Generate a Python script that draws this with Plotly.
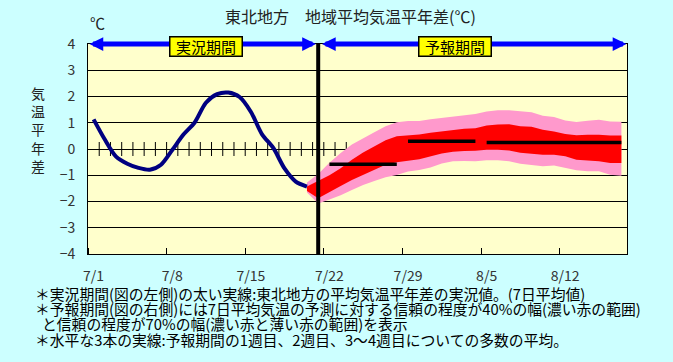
import plotly.graph_objects as go

# ---------------- data ----------------
dates = ["7/1", "7/2", "7/3", "7/4", "7/5", "7/6", "7/7", "7/8", "7/9", "7/10",
         "7/11", "7/12", "7/13", "7/14", "7/15", "7/16", "7/17", "7/18", "7/19", "7/20",
         "7/21", "7/22", "7/23", "7/24", "7/25", "7/26", "7/27", "7/28", "7/29", "7/30",
         "7/31", "8/1", "8/2", "8/3", "8/4", "8/5", "8/6", "8/7", "8/8", "8/9",
         "8/10", "8/11", "8/12", "8/13", "8/14", "8/15", "8/16", "8/17"]
tick_labels = ["7/1", "7/8", "7/15", "7/22", "7/29", "8/5", "8/12"]

# observed 7-day mean anomaly (7/1 - 7/20)
obs_values = [1.13, 0.36, -0.29, -0.56, -0.72, -0.79, -0.60, -0.04, 0.55, 1.01,
              1.76, 2.09, 2.15, 1.98, 1.42, 0.56, 0.04, -0.74, -1.24, -1.43]

# forecast bands (7/20 - 8/17)
pink_hi = [-1.28, -0.95, -0.52, -0.15, 0.17, 0.42, 0.64, 0.87, 1.02, 1.07,
           1.07, 1.13, 1.18, 1.23, 1.26, 1.33, 1.43, 1.48, 1.48, 1.43,
           1.40, 1.27, 1.22, 1.09, 1.03, 1.08, 1.11, 1.05, 1.04]
red_hi = [-1.43, -1.20, -1.00, -0.73, -0.41, -0.13, 0.10, 0.33, 0.49, 0.53,
          0.55, 0.62, 0.67, 0.73, 0.77, 0.79, 0.90, 0.93, 0.94, 0.87,
          0.85, 0.73, 0.67, 0.57, 0.52, 0.54, 0.54, 0.51, 0.51]
red_lo = [-1.60, -1.88, -1.63, -1.41, -1.18, -0.99, -0.79, -0.60, -0.50, -0.45,
          -0.39, -0.28, -0.17, -0.10, -0.08, -0.07, -0.03, -0.03, -0.06, -0.14,
          -0.19, -0.22, -0.22, -0.28, -0.41, -0.43, -0.47, -0.53, -0.53]
pink_lo = [-1.66, -2.08, -1.92, -1.76, -1.56, -1.37, -1.22, -1.08, -0.99, -0.86,
           -0.80, -0.70, -0.55, -0.47, -0.46, -0.47, -0.43, -0.43, -0.47, -0.56,
           -0.60, -0.66, -0.63, -0.72, -0.81, -0.85, -0.85, -0.98, -1.02]

# ensemble means: week 1, week 2, weeks 3-4
week_start = ["7/22", "7/29", "8/5"]
week_end = ["7/28", "8/4", "8/17"]
week_mean = [-0.58, 0.30, 0.25]

split_date = "7/21"
fc_first = "7/20"

# ---------------- helpers ----------------
idx = {d: i for i, d in enumerate(dates)}
obs_x = list(range(len(obs_values)))
fc_x = list(range(idx[fc_first], idx[fc_first] + len(pink_hi)))
n = len(dates)

W, H = 673, 362
ML, MR, MT, MB = 88, 46, 44, 108
PW, PH = W - ML - MR, H - MT - MB


def px2paper(px, py):
    return (px - ML) / PW, (H - MB - py) / PH


FONT = "Noto Sans CJK JP, Noto Sans, sans-serif"
fig = go.Figure()

# day tick marks on the zero line
fig.add_trace(go.Scatter(
    x=[i + 0.5 for i in range(n - 1)], y=[0] * (n - 1), mode="markers",
    marker=dict(symbol="line-ns", size=10, line=dict(width=1, color="black")),
    hoverinfo="skip", showlegend=False))

# 70% band (pink)
fig.add_trace(go.Scatter(
    x=fc_x + fc_x[::-1], y=pink_hi + pink_lo[::-1], fill="toself",
    fillcolor="#FF99CC", line=dict(width=0), mode="lines",
    hoverinfo="skip", showlegend=False))
# 40% band (red)
fig.add_trace(go.Scatter(
    x=fc_x + fc_x[::-1], y=red_hi + red_lo[::-1], fill="toself",
    fillcolor="#FF0000", line=dict(width=0), mode="lines",
    hoverinfo="skip", showlegend=False))

# observed
fig.add_trace(go.Scatter(
    x=obs_x, y=obs_values, mode="lines",
    line=dict(color="#000080", width=4, shape="spline", smoothing=0.8),
    showlegend=False))

# ensemble mean lines
for s, e, m in zip(week_start, week_end, week_mean):
    fig.add_trace(go.Scatter(
        x=[idx[s], idx[e]], y=[m, m], mode="lines",
        line=dict(color="black", width=3.5), showlegend=False))

sx = idx[split_date]

# divider between observation and forecast
fig.add_trace(go.Scatter(
    x=[sx, sx], y=[-4, 4], mode="lines", line=dict(color="black", width=4),
    hoverinfo="skip", showlegend=False))

# period arrows
for a, b in [(-0.5, sx - 0.2), (sx + 0.2, n - 0.55)]:
    fig.add_annotation(x=b, y=4, ax=a, ay=4, xref="x", yref="y", axref="x", ayref="y",
                       text="", showarrow=True, arrowhead=2, startarrowhead=2,
                       arrowside="end+start", arrowwidth=5, arrowsize=0.55,
                       startarrowsize=0.55, arrowcolor="#0000FF", standoff=0,
                       startstandoff=0)

for txt, xc in [("実況期間", 10.0), ("予報期間", 32.2)]:
    fig.add_annotation(x=xc, y=3.92, xref="x", yref="y", text=txt, showarrow=False,
                       xanchor="center", yanchor="middle",
                       font=dict(family=FONT, size=15, color="black"),
                       bgcolor="#FFFF00", bordercolor="black", borderwidth=1.5,
                       borderpad=0, width=71, height=18)

# titles / units
tx, ty = px2paper(350, 16)
fig.add_annotation(x=tx, y=ty, xref="paper", yref="paper", xanchor="center",
                   yanchor="middle", text="東北地方　地域平均気温平年差(℃)",
                   showarrow=False, font=dict(family=FONT, size=16, color="#222222"))
ux, uy = px2paper(97, 23)
fig.add_annotation(x=ux, y=uy, xref="paper", yref="paper", xanchor="center",
                   yanchor="middle", text="℃", showarrow=False,
                   font=dict(family=FONT, size=15, color="#222222"))
yx, yy = px2paper(38, 129)
fig.add_annotation(x=yx, y=yy, xref="paper", yref="paper", xanchor="center",
                   yanchor="middle", text="気<br>温<br>平<br>年<br>差", showarrow=False,
                   font=dict(family=FONT, size=14, color="#222222"))

notes = [
    ("＊実況期間(図の左側)の太い実線:東北地方の平均気温平年差の実況値。(7日平均値)", 33, 293),
    ("＊予報期間(図の右側)には7日平均気温の予測に対する信頼の程度が40%の幅(濃い赤の範囲)", 33, 308),
    ("と信頼の程度が70%の幅(濃い赤と薄い赤の範囲)を表示", 40, 323),
    ("＊水平な3本の実線:予報期間の1週目、2週目、3～4週目についての多数の平均。", 33, 339),
]
for t, px, py in notes:
    nx, ny = px2paper(px, py)
    fig.add_annotation(x=nx, y=ny, xref="paper", yref="paper",
                       xanchor="left", yanchor="middle", text=t, showarrow=False,
                       font=dict(family=FONT, size=14.8, color="black"))

fig.update_layout(
    width=W, height=H,
    margin=dict(l=ML, r=MR, t=MT, b=MB),
    paper_bgcolor="#CCFFFF", plot_bgcolor="#FFFFCC",
    showlegend=False,
    xaxis=dict(range=[-0.5, n - 0.5], showgrid=False, zeroline=False,
               tickmode="array",
               tickvals=[idx[t] for t in tick_labels], ticktext=tick_labels,
               ticks="outside", ticklen=9, tickcolor="rgba(0,0,0,0)",
               tickfont=dict(family=FONT, size=14, color="#333333"),
               showline=True, linecolor="black", linewidth=1, mirror=True,
               minor=dict(tick0=-0.5, dtick=7, ticks="inside", ticklen=6,
                          tickcolor="black", tickwidth=1, showgrid=False)),
    yaxis=dict(range=[-4, 4], dtick=1, showgrid=True, gridcolor="black", gridwidth=1,
               zeroline=True, zerolinecolor="black", zerolinewidth=1,
               showline=True, linecolor="black", linewidth=1, mirror=True,
               ticks="", ticklabelstandoff=9,
               tickfont=dict(family=FONT, size=14, color="#333333")),
)

fig.write_html("out.html", config={"displayModeBar": False},
               post_script="document.body.style.margin='0';")
